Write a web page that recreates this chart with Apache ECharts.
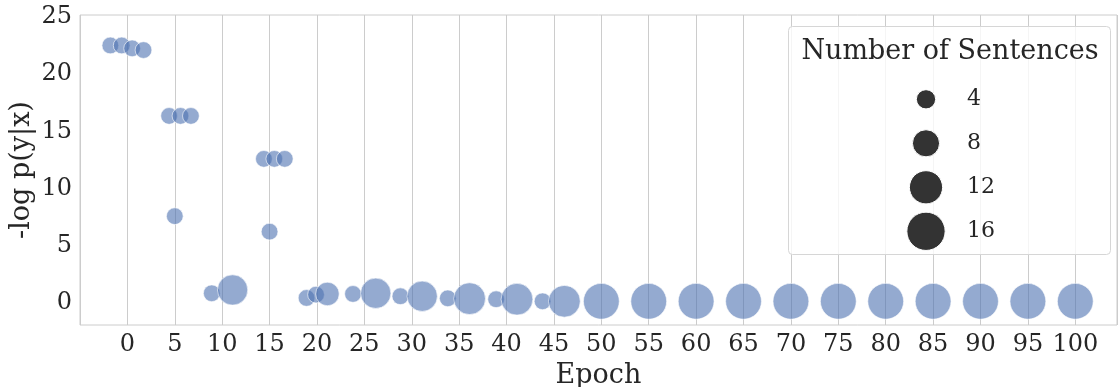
<!DOCTYPE html>
<html>
<head>
<meta charset="utf-8">
<script src="https://cdn.jsdelivr.net/npm/echarts@6/dist/echarts.min.js"></script>
<style>html,body{margin:0;padding:0;background:#fff}#c{width:1118px;height:387px}</style>
</head>
<body>
<div id="c"></div>
<script>
// Epoch (x, dodged as in the picture)
const epochs = [-1.8, -0.6, 0.5, 1.7, 4.4, 5.6, 6.7, 5.0, 14.4, 15.5, 16.6, 15.0,
  8.9, 11.1, 18.9, 19.9, 21.1, 23.8, 26.2, 28.8, 31.1, 33.8, 36.1, 38.9, 41.1, 43.8, 46.1,
  50, 55, 60, 65, 70, 75, 80, 85, 90, 95, 100];
// -log p(y|x)
const nll = [22.5, 22.5, 22.25, 22.1, 16.35, 16.35, 16.35, 7.6, 12.6, 12.6, 12.6, 6.25,
  0.87, 1.16, 0.46, 0.75, 0.81, 0.81, 0.87, 0.61, 0.61, 0.43, 0.4, 0.35, 0.35, 0.17, 0.17,
  0.17, 0.17, 0.17, 0.17, 0.17, 0.17, 0.17, 0.17, 0.17, 0.17, 0.17];
// Number of sentences (bubble size)
const sentences = [3, 3, 3, 3, 3, 3, 3, 3, 3, 3, 3, 3,
  3, 10, 3, 3, 6, 3, 10, 3, 10, 3, 11, 3, 11, 3, 11,
  14, 14, 14, 14, 14, 14, 14, 14, 14, 14, 14];
const xTicks = [0, 5, 10, 15, 20, 25, 30, 35, 40, 45, 50, 55, 60, 65, 70, 75, 80, 85, 90, 95, 100];
const yTicks = [0, 5, 10, 15, 20, 25];
const legendSizes = [4, 8, 12, 16];
const legendTitle = 'Number of Sentences';

const FONT = 'DejaVu Serif';
const TXT = '#262626';
const diam = v => Math.sqrt(7 + 91.25 * v);

const pts = epochs.map((e, i) => [e, nll[i], sentences[i]]);

const chart = echarts.init(document.getElementById('c'), null, {renderer: 'canvas'});

const legX = 926, legY0 = 99.3, legDy = 44, legTextX = 967;
const graphics = [
  {type: 'rect', z: 100, shape: {x: 788.5, y: 26.5, width: 322, height: 228, r: 4},
   style: {fill: 'rgba(255,255,255,0.8)', stroke: '#d6d6d6', lineWidth: 1}},
  {type: 'text', z: 101, x: 950, y: 52, style: {text: legendTitle, font: '27px "' + FONT + '"',
   fill: TXT, textAlign: 'center', textVerticalAlign: 'middle'}}
];
legendSizes.forEach((v, i) => {
  const cy = legY0 + i * legDy;
  graphics.push({type: 'circle', z: 101, shape: {cx: legX, cy: cy, r: diam(v) / 2},
    style: {fill: '#333333', stroke: '#ffffff', lineWidth: 1}});
  graphics.push({type: 'text', z: 101, x: legTextX, y: cy, style: {text: String(v),
    font: '22px "' + FONT + '"', fill: TXT, textAlign: 'left', textVerticalAlign: 'middle'}});
});

chart.setOption({
  animation: false,
  backgroundColor: '#ffffff',
  grid: {left: 80, right: 1, top: 15, bottom: 62, show: true, borderColor: '#cccccc', borderWidth: 1,
    containLabel: false, outerBoundsMode: 'none'},
  xAxis: {
    type: 'value', min: -5, max: 104.4, interval: 5,
    name: 'Epoch', nameLocation: 'middle', nameGap: 37, nameMoveOverlap: false,
    nameTextStyle: {fontFamily: FONT, fontSize: 27, color: TXT},
    axisLine: {show: false}, axisTick: {show: false},
    axisLabel: {fontFamily: FONT, fontSize: 24, color: TXT, margin: 8,
      showMinLabel: false, showMaxLabel: false,
      formatter: v => (xTicks.indexOf(Math.round(v * 100) / 100) >= 0 ? String(v) : '')},
    splitLine: {show: true, lineStyle: {color: '#cccccc', width: 1}}
  },
  yAxis: {
    type: 'value', min: -1.9, max: 25.16,
    name: '-log p(y|x)', nameLocation: 'middle', nameGap: 45, nameMoveOverlap: false,
    nameTextStyle: {fontFamily: FONT, fontSize: 27, color: TXT},
    axisLine: {show: false}, axisTick: {show: false},
    axisLabel: {fontFamily: FONT, fontSize: 24, color: TXT, margin: 8, customValues: yTicks},
    splitLine: {show: false}
  },
  series: [{
    type: 'scatter',
    data: pts,
    symbol: 'circle',
    symbolSize: d => diam(d[2]),
    itemStyle: {color: '#4c72b0', opacity: 0.6, borderColor: '#ffffff', borderWidth: 1},
    emphasis: {disabled: true}
  }],
  graphic: graphics
});
</script>
</body>
</html>
